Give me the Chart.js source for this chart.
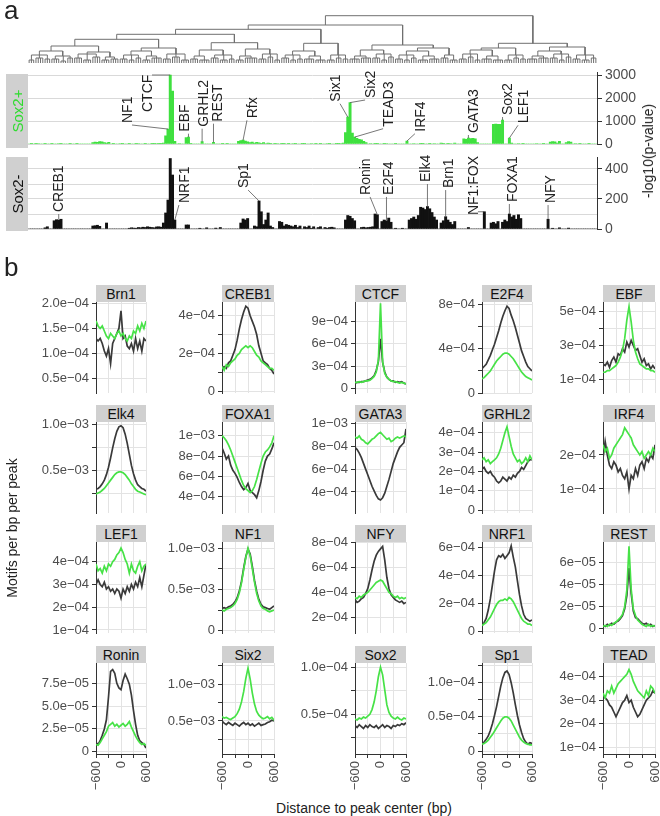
<!DOCTYPE html>
<html><head><meta charset="utf-8">
<script src="https://cdn.jsdelivr.net/npm/chart.js@4.4.1/dist/chart.umd.min.js"></script>
<style>
body{margin:0;background:#fff;width:660px;height:816px;position:relative;overflow:hidden;font-family:"Liberation Sans",Arial,sans-serif;}
canvas{position:absolute;}
.t{position:absolute;white-space:nowrap;color:#222;line-height:1;}
.rot{transform:translate(-50%,-50%) rotate(-90deg);}
.strip{position:absolute;background:#d0d0d0;text-align:center;font-size:14px;color:#111;}
</style></head><body>
<script>
// ---------------- DATA ----------------
// Panel a: motif clusters (leaf order of the dendrogram), 250 clusters
const clusterCount = 250;
// -log10(p-value) for Sox2+ peaks, as [first cluster index, values...]
const sox2PlusSegments = [
 [0,  [0,10,0,15,20,0,0,10,0,0, 15,0,0,20,10,0,0,0,12,0, 0,10,0,0,0,0,0,0]],
 [28, [60,80,70,110,90,60,40,70]],
 [36, [0,15,0,0,20,10,0,0,15,0, 0,10,20,0,0,15,0,0,25,15, 20,30,10,40]],
 [60, [350,650,3000,2300,120]],
 [65, [0,20,0,0,280,300,30,0,0,0, 0,100,0,0,0,0,70,0,0,0, 15,0,10,0,0,0,0,120,150,170, 130,90,60,80,40,70,50,30,60,20, 40,15,0,30,20,0,25,10,0,15]],
 [115,[0,20,15,0,0,25,10,0,0,20, 0,15,0,30,0,0,20,10,0,0, 25,30,20,40]],
 [139,[500,1170,1800,480,300,250,200,180,120,60]],
 [149,[0,20,0,15,30,0,0,25,20,0, 0,0,10,0,0,0,0,130,0,0, 20,0,0,25,15,0,0,30,0,20, 0,0,40,25]],
 [183,[0,30,20,0,40,0,0,0,220,200, 260,240,250,230,60,0,0,0,0,0, 0,850,870,850,860,1040,0,0,260,40]],
 [213,[0,0,20,0,15,0,0,0,0,0, 20,0,0,15,0,0]],
 [229,[80,100,90,40,120,0,0,60,110,80, 0,20,0,15,0,0,0,10,0,0, 0]]
];
// -log10(p-value) for Sox2- peaks
const sox2MinusSegments = [
 [0,  [0,0,0,0,0,0,0,8,15,0, 0,55,62,60,65,0,0,0,0,0, 0,0,0,0,0,0,0,0]],
 [28, [20,22,25,18,0,0,40,0,0,0, 0,0,0,0,0,0,5,8,6,5, 10,8,12,10,15,12,10,8,14,15, 12,40,107,193,470,360,60,0,0,0]],
 [68, [0,27,27,0,0,0,0,5,0,0, 8,0,0,0,6,0,10,0,0,0, 0,0,0,0,0,40,67,60,70,0, 0,20,15,187,115,30,60,107,20,10, 0,0,50,45,20,30,25,20,15,25, 10,20,0,15,10,20,5,15,0,10, 15,0,10,5]],
 [132,[10,12,8,0,0,0,0,60,90,85, 70,55,0,0,10,12,8,10,12,15, 100,95,0,50,60,55,73,45,0,5, 0,0,5,0,0,60,70,80,65,90, 145,140,130,150,135,110,80,60,0,40, 55,82,60,45,30,50,0,0,0,0, 0,10,0,0,0,0,0,0,115,0, 0,40,45,35,50,0,45,60,50,100, 80,90,65,95,70]],
 [217,[0,0,0,0,0,0,0,0,0,0, 0,65,0,5,0,0,8,0,0,0, 6,0,0,0,0,0,0,0,0,0, 0,0,0]]
];
// motif labels: [text, target cluster, target value, label cluster position, label base value]
const sox2PlusLabels = [
 ['NF1',61,650,43.0,913], ['CTCF',62,3000,51.8,1391], ['EBF',70,300,68.0,535],
 ['GRHL2',76,100,76.4,752], ['REST',81,70,82.5,970], ['Rfx',94,170,97.9,1117],
 ['Six1',140,1170,134.4,1839], ['Six2',141,1800,149.8,2000], ['TEAD3',143,300,157.7,752],
 ['IRF4',166,130,171.7,535], ['GATA3',193,260,195,478], ['Sox2',208,1040,210,1260],
 ['LEF1',211,260,217,900]
];
const sox2MinusLabels = [
 ['CREB1',13,65,12.7,113], ['NRF1',64,60,68,173], ['Sp1',101,187,94,273],
 ['Ronin',153,95,147.6,227], ['E2F4',157,60,157.7,227], ['Elk4',175,150,174,313],
 ['Brn1',183,82,184,273], ['NF1:FOX',200,115,195,93], ['FOXA1',211,100,212,180],
 ['NFY',228,65,229,173]
];
const sox2PlusTicks = [0,1000,2000,3000];
const sox2MinusTicks = [0,100,200,300,400];
const sox2MinusTickLabels = ['0','','200','','400'];

// dendrogram: leaf clusters [first leaf, last leaf, merge height]
const dendroClusters = [
 [0,9,8],[10,19,7],[20,31,9],[32,39,6],[40,49,8],[50,58,7],[59,70,9],[71,79,7],[80,90,8],
 [91,100,7],[101,110,9],[111,120,8],[121,130,7],[131,140,8],[141,150,7],[151,160,9],
 [161,170,8],[171,180,7],[181,188,8],[189,198,9],[199,208,7],[209,218,8],[219,228,7],
 [229,238,9],[239,249,8]
];
// sub-groups inside each leaf cluster [first leaf, last leaf, height]
const dendroSubgroups = [
 [[0,2,3],[3,6,5],[7,9,4]], [[10,13,4],[14,16,2],[17,19,5]], [[20,23,5],[24,27,3],[28,31,6]],
 [[32,35,3],[36,39,4]], [[40,43,4],[44,46,3],[47,49,5]], [[50,53,3],[54,58,5]],
 [[59,62,4],[63,66,6],[67,70,3]], [[71,74,4],[75,79,3]], [[80,83,5],[84,87,3],[88,90,4]],
 [[91,94,3],[95,100,5]], [[101,104,4],[105,107,6],[108,110,3]], [[111,114,5],[115,117,3],[118,120,4]],
 [[121,125,4],[126,130,3]], [[131,134,3],[135,137,5],[138,140,4]], [[141,145,4],[146,150,5]],
 [[151,154,5],[155,157,3],[158,160,6]], [[161,164,4],[165,167,3],[168,170,5]], [[171,175,3],[176,180,4]],
 [[181,184,5],[185,188,3]], [[189,192,4],[193,195,6],[196,198,3]], [[199,203,4],[204,208,3]],
 [[209,212,3],[213,215,5],[216,218,4]], [[219,223,4],[224,228,5]], [[229,232,5],[233,235,3],[236,238,6]],
 [[239,242,4],[243,246,3],[247,249,5]]
];
// merges [node a, node b, height]; node ids continue after the leaf clusters
const dendroMerges = [
 [0,1,12],[2,3,11],[25,26,17],[4,5,12],[28,6,15],[27,29,23.7],[7,8,13],[9,10,14],
 [31,32,20.3],[30,33,28.7],[11,12,12],[35,13,19.7],[34,36,33.7],[14,15,13],[16,17,12],
 [39,18,15],[38,40,18],[37,41,38],[19,20,13],[43,21,15],[22,23,12],[45,24,16],
 [44,46,19.7],[42,47,47.3]
];

// Panel b: distance to peak centre (bp)
const distBp = [-600,-550,-500,-450,-400,-350,-300,-250,-200,-150,-100,-50,0,50,100,150,200,250,300,350,400,450,500,550,600];
// motifs per bp per peak, in units of 1e-4 (Plus = Sox2+ peaks, Minus = Sox2- peaks)
const brn1Plus  = [1.65,1.55,1.5,1.55,1.45,1.35,1.3,1.4,1.35,1.3,1.4,1.45,1.35,1.4,1.3,1.25,1.35,1.3,1.45,1.4,1.55,1.45,1.6,1.5,1.65];
const brn1Minus = [1.3,1.25,1.3,1.2,1.05,0.95,1.1,0.8,1.2,1.3,1.4,1.5,1.85,1.3,1.35,1.15,1.1,1.2,1.05,1.3,1.1,1.25,1.05,1.3,1.25];
const creb1Plus = [1.3,1.1,1.4,1.3,1.5,1.6,1.7,1.9,2.0,2.2,2.3,2.4,2.3,2.4,2.3,2.1,1.9,1.8,1.6,1.5,1.4,1.3,1.2,1.2,1.1];
const creb1Minus= [1.2,1.3,1.2,1.5,1.6,1.9,2.2,2.7,3.3,3.8,4.2,4.5,4.4,4.0,3.7,3.4,3.0,2.4,2.0,1.6,1.5,1.4,1.2,1.1,0.9];
const ctcfPlus  = [0.8,0.8,0.9,0.8,0.9,1.0,1.0,1.1,1.3,1.6,2.2,3.8,11.5,3.6,2.0,1.5,1.2,1.0,0.9,0.9,0.8,0.7,0.8,0.7,0.6];
const ctcfMinus = [0.7,0.8,0.8,0.9,0.9,1.0,1.1,1.2,1.4,1.7,2.4,3.6,6.7,3.5,2.2,1.5,1.2,1.0,1.0,0.8,0.9,0.8,0.9,0.7,0.6];
const e2f4Plus  = [1.3,1.4,1.6,1.8,2.0,2.3,2.6,2.9,3.1,3.3,3.5,3.6,3.6,3.5,3.3,3.1,2.8,2.5,2.2,1.9,1.7,1.5,1.4,1.3,1.2];
const e2f4Minus = [2.2,2.4,2.6,3.0,3.4,3.9,4.4,5.0,5.6,6.3,6.9,7.4,7.8,7.6,7.0,6.5,5.9,5.2,4.5,3.8,3.3,2.8,2.4,2.2,2.0];
const ebfPlus   = [1.4,1.4,1.5,1.5,1.6,1.7,1.8,2.0,2.3,2.7,3.4,4.5,5.3,4.4,3.3,2.6,2.2,1.9,1.8,1.7,1.6,1.6,1.5,1.5,1.4];
const ebfMinus  = [1.9,1.8,2.0,1.7,2.1,2.3,2.0,2.5,2.4,2.8,2.6,3.2,2.9,3.3,3.0,2.7,2.8,2.4,2.0,2.2,1.8,1.9,1.6,1.8,1.6];
const elk4Plus  = [2.4,2.5,2.6,2.8,3.0,3.3,3.6,3.9,4.2,4.5,4.7,4.8,4.8,4.7,4.5,4.2,3.9,3.5,3.2,2.9,2.7,2.6,2.5,2.4,2.3];
const elk4Minus = [2.9,3.0,3.2,3.5,3.9,4.5,5.3,6.3,7.4,8.4,9.2,9.7,9.8,9.6,8.9,7.9,6.7,5.5,4.6,3.9,3.4,3.2,3.0,2.9,2.7];
const foxa1Plus = [10.0,9.8,9.5,9.1,8.6,8.0,7.4,6.8,6.2,5.6,5.1,4.8,4.6,4.4,4.6,5.0,5.7,6.5,7.3,8.0,8.4,8.6,8.9,9.3,10.0];
const foxa1Minus= [8.8,8.3,7.7,8.0,7.1,6.6,6.3,5.9,5.4,5.0,4.7,4.9,5.3,4.6,4.4,4.2,3.9,4.6,5.5,6.6,7.5,8.0,8.2,8.7,9.3];
const gata3Plus = [8.8,8.7,8.9,8.6,8.5,8.3,8.2,8.4,8.6,8.7,8.9,9.1,9.2,9.0,8.8,8.6,8.7,8.4,8.5,8.7,8.8,8.7,8.8,8.9,8.8];
const gata3Minus= [7.9,7.7,7.4,7.0,6.5,6.0,5.5,5.0,4.5,4.1,3.7,3.4,3.3,3.5,3.9,4.5,5.1,5.8,6.5,7.0,7.5,7.9,8.1,8.3,9.5];
const grhl2Plus = [2.6,2.7,2.5,2.6,2.4,2.5,2.6,2.7,2.9,3.2,3.6,4.0,4.3,3.8,3.3,2.9,2.7,2.5,2.6,2.4,2.5,2.7,2.5,2.8,2.6];
const grhl2Minus= [2.1,2.2,2.0,1.9,2.0,1.8,1.7,1.5,1.4,1.5,1.7,1.6,1.5,1.7,1.6,1.8,1.7,1.9,2.0,2.2,2.1,2.3,2.5,2.6,2.6];
const irf4Plus  = [2.3,2.1,2.2,1.9,2.0,2.2,2.3,2.4,2.5,2.6,2.8,2.7,2.6,2.5,2.3,2.2,2.1,2.0,2.1,1.9,2.0,2.1,2.0,2.2,2.1];
const irf4Minus = [1.9,2.4,2.0,1.7,1.6,1.8,1.7,1.5,1.6,1.4,1.3,1.5,1.0,1.4,1.3,1.6,1.4,1.7,1.8,1.6,1.9,1.8,2.0,1.9,2.3];
const lef1Plus  = [3.9,3.6,3.7,3.5,3.8,3.6,3.9,3.8,4.0,4.1,4.3,4.4,4.6,4.4,4.1,3.9,3.5,3.9,3.6,3.5,3.8,4.0,3.6,3.8,3.9];
const lef1Minus = [3.0,3.2,3.0,2.9,3.1,2.8,2.9,2.7,2.8,2.6,2.8,2.7,2.4,2.8,2.6,2.9,2.7,3.0,2.8,3.1,2.9,3.3,2.9,3.4,3.9];
const nf1Plus   = [2.5,2.4,2.6,2.7,2.8,3.0,3.3,3.8,4.6,5.8,7.4,8.9,10.0,9.1,7.5,5.9,4.5,3.6,3.0,2.7,2.6,2.4,2.3,2.4,2.5];
const nf1Minus  = [2.7,2.8,2.7,2.9,3.0,3.2,3.5,4.0,4.8,6.0,7.6,9.0,9.9,9.3,7.8,6.1,4.8,3.8,3.2,2.9,2.8,2.7,2.6,2.8,3.0];
const nfyPlus   = [3.6,3.5,3.7,3.6,3.8,3.9,4.0,4.2,4.4,4.6,4.8,4.9,5.0,4.9,4.6,4.3,4.0,3.9,3.7,3.6,3.7,3.5,3.6,3.5,3.6];
const nfyMinus  = [3.4,3.2,3.3,3.5,3.6,3.9,4.3,5.0,5.8,6.5,7.0,7.3,7.5,7.7,6.6,5.2,4.3,3.8,3.6,3.4,3.3,3.2,3.3,3.1,3.2];
const nrf1Plus  = [0.4,0.5,0.6,0.8,1.0,1.3,1.6,1.9,2.1,2.2,2.2,2.3,2.2,2.4,2.3,2.1,1.8,1.5,1.2,0.9,0.7,0.6,0.5,0.5,0.4];
const nrf1Minus = [0.4,0.6,0.9,1.5,2.3,3.3,4.3,5.1,5.4,5.3,5.5,5.2,5.4,5.6,6.1,5.3,4.6,3.6,2.6,1.8,1.2,0.9,0.8,0.7,0.8];
const restPlus  = [0.02,0.03,0.02,0.04,0.03,0.05,0.06,0.08,0.1,0.13,0.2,0.35,0.75,0.36,0.18,0.12,0.08,0.06,0.04,0.03,0.02,0.04,0.02,0.03,0.02];
const restMinus = [0.03,0.02,0.04,0.03,0.05,0.04,0.06,0.07,0.09,0.12,0.18,0.3,0.55,0.32,0.16,0.1,0.09,0.07,0.05,0.04,0.05,0.03,0.04,0.02,0.03];
const roninPlus = [0.08,0.07,0.1,0.14,0.18,0.22,0.28,0.3,0.32,0.28,0.3,0.27,0.29,0.31,0.28,0.3,0.33,0.27,0.22,0.17,0.13,0.1,0.08,0.09,0.07];
const roninMinus= [0.1,0.08,0.12,0.18,0.25,0.35,0.6,0.88,0.9,0.86,0.75,0.7,0.68,0.78,0.85,0.8,0.74,0.62,0.45,0.3,0.18,0.12,0.1,0.08,0.04];
const six2Plus  = [5.6,5.4,5.5,5.3,5.2,5.4,5.6,6.0,6.6,7.6,9.0,10.8,12.2,10.7,8.8,7.3,6.3,5.8,5.5,5.3,5.4,5.6,5.3,5.5,5.1];
const six2Minus = [5.0,4.7,4.5,4.8,4.6,4.4,4.7,4.5,4.3,4.6,4.8,4.5,4.7,4.4,4.6,4.3,4.5,4.7,4.4,4.5,4.6,4.8,4.9,5.1,5.0];
const sox2Plus  = [0.45,0.44,0.46,0.45,0.47,0.46,0.48,0.5,0.55,0.63,0.75,0.9,1.0,0.92,0.76,0.6,0.52,0.48,0.46,0.45,0.47,0.45,0.44,0.46,0.45];
const sox2Minus = [0.38,0.36,0.39,0.37,0.35,0.38,0.36,0.39,0.37,0.36,0.38,0.35,0.37,0.39,0.36,0.38,0.37,0.35,0.38,0.37,0.39,0.38,0.4,0.39,0.41];
const sp1Plus   = [0.1,0.11,0.13,0.16,0.2,0.24,0.29,0.34,0.39,0.44,0.48,0.5,0.5,0.48,0.44,0.38,0.32,0.26,0.2,0.16,0.13,0.11,0.1,0.09,0.09];
const sp1Minus  = [0.1,0.13,0.17,0.22,0.3,0.4,0.52,0.65,0.8,0.95,1.07,1.15,1.17,1.12,1.0,0.85,0.68,0.52,0.38,0.27,0.18,0.13,0.1,0.12,0.11];
const teadPlus  = [3.3,3.1,3.4,3.3,3.6,3.3,3.5,3.7,3.8,3.9,4.0,4.1,4.3,4.1,3.8,3.6,3.4,3.3,3.2,3.1,3.4,3.2,3.6,3.5,3.3];
const teadMinus = [3.2,3.1,3.0,2.8,2.7,2.5,2.3,2.5,2.7,2.9,3.0,3.2,2.9,3.0,2.7,2.5,2.3,2.4,2.6,2.8,3.0,3.1,3.2,3.4,3.3];

const xTickVals = [-600,-300,0,300,600];
const xTickLabels = ['\u2212600','','0','','600'];

// panel table: name, Sox2+ series, Sox2- series, y min, y max, y ticks [value, label]
const M = '\u2212';
const panels = [
 ['Brn1', brn1Plus, brn1Minus, 0.216, 2.026, [[0.5,'0.5e'+M+'04'],[1,'1.0e'+M+'04'],[1.5,'1.5e'+M+'04'],[2,'2.0e'+M+'04']]],
 ['CREB1', creb1Plus, creb1Minus, -0.106, 4.728, [[0,'0'],[1,''],[2,'2e'+M+'04'],[3,''],[4,'4e'+M+'04']]],
 ['CTCF', ctcfPlus, ctcfMinus, -0.635, 11.66, [[0,'0'],[3,'3e'+M+'04'],[6,'6e'+M+'04'],[9,'9e'+M+'04']]],
 ['E2F4', e2f4Plus, e2f4Minus, 0.027, 8.18, [[0,'0'],[2,''],[4,'4e'+M+'04'],[6,''],[8,'8e'+M+'04']]],
 ['EBF', ebfPlus, ebfMinus, 0.168, 5.577, [[1,'1e'+M+'04'],[2,''],[3,'3e'+M+'04'],[4,''],[5,'5e'+M+'04']]],
 ['Elk4', elk4Plus, elk4Minus, 0.326, 10.22, [[2.5,''],[5,'0.5e'+M+'03'],[7.5,''],[10,'1.0e'+M+'03']]],
 ['FOXA1', foxa1Plus, foxa1Minus, 2.397, 11.35, [[4,'4e'+M+'04'],[6,'6e'+M+'04'],[8,'8e'+M+'04'],[10,'1e'+M+'03']]],
 ['GATA3', gata3Plus, gata3Minus, 2.166, 10.11, [[4,'4e'+M+'04'],[6,'6e'+M+'04'],[8,'8e'+M+'04'],[10,'1e'+M+'03']]],
 ['GRHL2', grhl2Plus, grhl2Minus, -0.155, 4.554, [[0,'0'],[1,'1e'+M+'04'],[2,'2e'+M+'04'],[3,'3e'+M+'04'],[4,'4e'+M+'04']]],
 ['IRF4', irf4Plus, irf4Minus, 0.294, 2.97, [[1,'1e'+M+'04'],[2,'2e'+M+'04']]],
 ['LEF1', lef1Plus, lef1Minus, 0.868, 4.865, [[1,'1e'+M+'04'],[2,'2e'+M+'04'],[3,'3e'+M+'04'],[4,'4e'+M+'04']]],
 ['NF1', nf1Plus, nf1Minus, -0.279, 10.76, [[0,'0'],[2.5,''],[5,'0.5e'+M+'03'],[7.5,''],[10,'1.0e'+M+'03']]],
 ['NFY', nfyPlus, nfyMinus, 0.737, 8.056, [[2,'2e'+M+'04'],[4,'4e'+M+'04'],[6,'6e'+M+'04'],[8,'8e'+M+'04']]],
 ['NRF1', nrf1Plus, nrf1Minus, -0.143, 6.38, [[0,'0'],[2,'2e'+M+'04'],[4,'4e'+M+'04'],[6,'6e'+M+'04']]],
 ['REST', restPlus, restMinus, -0.039, 0.788, [[0,'0'],[0.2,'2e'+M+'05'],[0.4,'4e'+M+'05'],[0.6,'6e'+M+'05']]],
 ['Ronin', roninPlus, roninMinus, -0.0252, 0.9726, [[0,'0'],[0.25,'2.5e'+M+'05'],[0.5,'5.0e'+M+'05'],[0.75,'7.5e'+M+'05']]],
 ['Six2', six2Plus, six2Minus, 0.504, 12.9, [[2.5,''],[5,'0.5e'+M+'03'],[7.5,''],[10,'1.0e'+M+'03'],[12.5,'']]],
 ['Sox2', sox2Plus, sox2Minus, 0.0777, 1.0457, [[0.25,''],[0.5,'0.5e'+M+'04'],[0.75,''],[1,'1.0e'+M+'04']]],
 ['Sp1', sp1Plus, sp1Minus, -0.0439, 1.288, [[0,'0'],[0.25,''],[0.5,'0.5e'+M+'04'],[0.75,''],[1,'1.0e'+M+'04'],[1.25,'']]],
 ['TEAD', teadPlus, teadMinus, 0.715, 4.582, [[1,'1e'+M+'04'],[2,'2e'+M+'04'],[3,'3e'+M+'04'],[4,'4e'+M+'04']]]
];

// ---------------- STYLE / LAYOUT ----------------
const GREEN = '#3fe03f', GREEN_LINE = '#47e247', DARK_LINE = '#3a3a3a', BLACK = '#111111';
const GRID = '#e3e3e3', AXIS = '#333333', TICKTXT = '#4d4d4d';
const FONT = '"Liberation Sans", Arial, sans-serif';
Chart.defaults.font.family = FONT;
Chart.defaults.animation = false;
Chart.defaults.plugins.legend.display = false;
Chart.defaults.plugins.tooltip.enabled = false;

function makeCanvas(l, t, w, h){
  const c = document.createElement('canvas');
  c.width = w; c.height = h;
  c.style.left = l+'px'; c.style.top = t+'px'; c.style.width = w+'px'; c.style.height = h+'px';
  document.body.appendChild(c); return c;
}
function addText(txt, l, t, size, color, rotate, extra){
  const d = document.createElement('div');
  d.className = 't' + (rotate ? ' rot' : '');
  d.textContent = txt;
  d.style.left = l+'px'; d.style.top = t+'px'; d.style.fontSize = size+'px';
  if (color) d.style.color = color;
  if (extra) Object.assign(d.style, extra);
  document.body.appendChild(d); return d;
}
function expand(segs, n){
  const a = new Array(n).fill(0);
  segs.forEach(([s, vals]) => vals.forEach((v,i) => { a[s+i] = v; }));
  return a;
}
const clusterIdx = Array.from({length: clusterCount}, (_, i) => i);

// label plugin (ggrepel-like rotated labels with leader segments)
const repelLabels = {
  id: 'repelLabels',
  afterDatasetsDraw(chart, args, opts){
    const {ctx} = chart; const x = chart.scales.x, y = chart.scales.y;
    ctx.save();
    ctx.font = '14px ' + FONT;
    opts.items.forEach(([txt, ti, tv, lx, lv]) => {
      const px = x.getPixelForValue(lx), py = y.getPixelForValue(lv);
      const w = ctx.measureText(txt).width, hh = 5;
      const tx = x.getPixelForValue(ti), ty = y.getPixelForValue(tv);
      const cx = Math.min(Math.max(tx, px - hh), px + hh);
      const cy = Math.min(Math.max(ty, py - w - 1), py + 2);
      const d = Math.hypot(tx - cx, ty - cy);
      if (d > 3){
        ctx.strokeStyle = '#555'; ctx.lineWidth = 0.8;
        ctx.beginPath(); ctx.moveTo(cx, cy); ctx.lineTo(tx, ty); ctx.stroke();
      }
      ctx.save(); ctx.translate(px, py); ctx.rotate(-Math.PI/2);
      ctx.fillStyle = '#222'; ctx.textAlign = 'left'; ctx.textBaseline = 'middle';
      ctx.fillText(txt, 0, 1); ctx.restore();
    });
    ctx.restore();
  }
};

// ---------------- PANEL a : dendrogram ----------------
(function(){
  const pts = []; const nodeX = [], nodeH = [];
  const gap = (xx) => pts.push({x: xx, y: null});
  dendroClusters.forEach(([s, e, h], ci) => {
    const subs = dendroSubgroups[ci];
    const mids = subs.map(([a, b]) => (a + b) / 2);
    const lo = Math.min(...mids), hi = Math.max(...mids);
    pts.push({x: lo, y: h}, {x: hi, y: h}); gap(hi);
    subs.forEach(([a, b, h2], j) => {
      pts.push({x: mids[j], y: h2}, {x: mids[j], y: h}); gap(mids[j]);
      pts.push({x: a, y: h2}, {x: b, y: h2}); gap(b);
      for (let i = a; i <= b; i++){ pts.push({x: i, y: 0}, {x: i, y: h2}); gap(i); }
    });
    nodeX.push((lo + hi) / 2); nodeH.push(h);
  });
  dendroMerges.forEach(([a, b, h]) => {
    pts.push({x: nodeX[a], y: nodeH[a]}, {x: nodeX[a], y: h}, {x: nodeX[b], y: h}, {x: nodeX[b], y: nodeH[b]}); gap(nodeX[b]);
    nodeX.push((nodeX[a] + nodeX[b]) / 2); nodeH.push(h);
  });
  const cv = makeCanvas(0, 0, 660, 68);
  new Chart(cv, {
    type: 'line',
    data: {datasets: [{data: pts, borderColor: '#707070', borderWidth: 1, pointRadius: 0, spanGaps: false, tension: 0}]},
    options: {responsive: false, devicePixelRatio: 1, parsing: true,
      layout: {padding: {left: 28, right: 63, top: 13, bottom: 5}},
      scales: {x: {type: 'linear', min: -0.5, max: clusterCount - 0.5, display: false},
               y: {type: 'linear', min: 0, max: 50, display: false}}}
  });
})();

// ---------------- PANEL a : bar charts ----------------
function barPanel(top, height, values, color, yMax, chartTop, chartBottom, ticks, tickLabels, labels){
  const cv = makeCanvas(0, top, 660, height);
  new Chart(cv, {
    type: 'bar',
    data: {labels: clusterIdx, datasets: [{data: values, backgroundColor: color, borderWidth: 0,
      barPercentage: 1, categoryPercentage: 1}]},
    options: {responsive: false, devicePixelRatio: 1,
      layout: {padding: {left: 28, right: 0, top: chartTop - top, bottom: top + height - chartBottom}},
      plugins: {repelLabels: {items: labels}},
      scales: {
        x: {display: false},
        y: {position: 'right', min: 0, max: yMax,
          afterBuildTicks: s => { s.ticks = ticks.map(v => ({value: v})); },
          afterFit: s => { s.width = 63; s.paddingTop = 0; s.paddingBottom = 0; },
          ticks: {color: TICKTXT, font: {size: 14}, padding: 3, autoSkip: false,
            callback: (v, i) => tickLabels ? tickLabels[i] : String(v)},
          grid: {color: '#d9d9d9', tickLength: 5,
            tickColor: c => (!tickLabels || (c.tick && tickLabels[ticks.indexOf(c.tick.value)] !== '')) ? AXIS : 'rgba(0,0,0,0)'},
          border: {display: true, color: AXIS, width: 1}}
      }},
    plugins: [repelLabels]
  });
}
barPanel(60, 95, expand(sox2PlusSegments, clusterCount), GREEN, 3100, 72.7, 144, sox2PlusTicks, null, sox2PlusLabels);
barPanel(150, 90, expand(sox2MinusSegments, clusterCount), BLACK, 480, 157, 229, sox2MinusTicks, sox2MinusTickLabels, sox2MinusLabels);

// strips and axis title of panel a
addText('a', 4, -3, 26, '#222');
const s1 = document.createElement('div'); s1.className = 'strip';
Object.assign(s1.style, {left: '6px', top: '74px', width: '22px', height: '74px'}); document.body.appendChild(s1);
const s2 = document.createElement('div'); s2.className = 'strip';
Object.assign(s2.style, {left: '6px', top: '157px', width: '22px', height: '74px'}); document.body.appendChild(s2);
addText('Sox2+', 17, 111, 15, '#2fdc2f', true);
addText('Sox2-', 17, 194, 15, '#111', true);
addText('-log10(p-value)', 648, 151, 14, '#222', true);

// ---------------- PANEL b : small multiples ----------------
const colLeft = [96, 222, 355, 482, 603];
const colWidth = [50, 52, 51, 50, 52];
const rowTop = [302, 422, 542, 663];
const plotH = 91;
addText('b', 4, 254, 26, '#222');
addText('Motifs per bp per peak', 12, 528, 14, '#222', true);
addText('Distance to peak center (bp)', 364, 808, 14, '#222', false, {transform: 'translate(-50%,-50%)'});

panels.forEach(([name, plus, minus, yMin, yMax, yTicks], k) => {
  const r = Math.floor(k / 5), c = k % 5;
  const last = r === 3;
  const L = colLeft[c], W = colWidth[c], T = rowTop[r];
  const strip = document.createElement('div'); strip.className = 'strip';
  strip.textContent = name;
  Object.assign(strip.style, {left: (L) + 'px', top: (T - 17) + 'px', width: W + 'px', height: '17px', lineHeight: '18px'});
  document.body.appendChild(strip);
  const cv = makeCanvas(L - 72, T - 10, 72 + W + 6, 10 + plotH + (last ? 48 : 8));
  const yVals = yTicks.map(t => t[0]);
  new Chart(cv, {
    type: 'line',
    data: {datasets: [
      {data: distBp.map((x, i) => ({x, y: plus[i]})), borderColor: GREEN_LINE, borderWidth: 1.7, pointRadius: 0, tension: 0},
      {data: distBp.map((x, i) => ({x, y: minus[i]})), borderColor: DARK_LINE, borderWidth: 1.7, pointRadius: 0, tension: 0}
    ]},
    options: {responsive: false, devicePixelRatio: 1,
      layout: {padding: {left: 0, right: 6, top: 10, bottom: last ? 0 : 8}},
      scales: {
        x: {type: 'linear', min: -600, max: 600,
          afterBuildTicks: s => { s.ticks = xTickVals.map(v => ({value: v})); },
          afterFit: s => { s.height = last ? 48 : 0; s.paddingLeft = 0; s.paddingRight = 0; },
          ticks: {display: last, color: TICKTXT, font: {size: 13}, padding: 3, autoSkip: false,
            minRotation: 90, maxRotation: 90, callback: (v, i) => xTickLabels[i]},
          grid: {color: GRID, drawTicks: last, tickLength: 4, tickColor: AXIS},
          border: {display: last, color: AXIS, width: 1}},
        y: {min: yMin, max: yMax,
          afterBuildTicks: s => { s.ticks = yVals.map(v => ({value: v})); },
          afterFit: s => { s.width = 72; s.paddingTop = 0; s.paddingBottom = 0; },
          ticks: {color: TICKTXT, font: {size: 13}, padding: 3, autoSkip: false,
            callback: (v, i) => yTicks[i][1]},
          grid: {color: GRID, tickLength: 4, tickColor: AXIS},
          border: {display: true, color: AXIS, width: 1}}
      }}
  });
});
</script>
</body></html>
